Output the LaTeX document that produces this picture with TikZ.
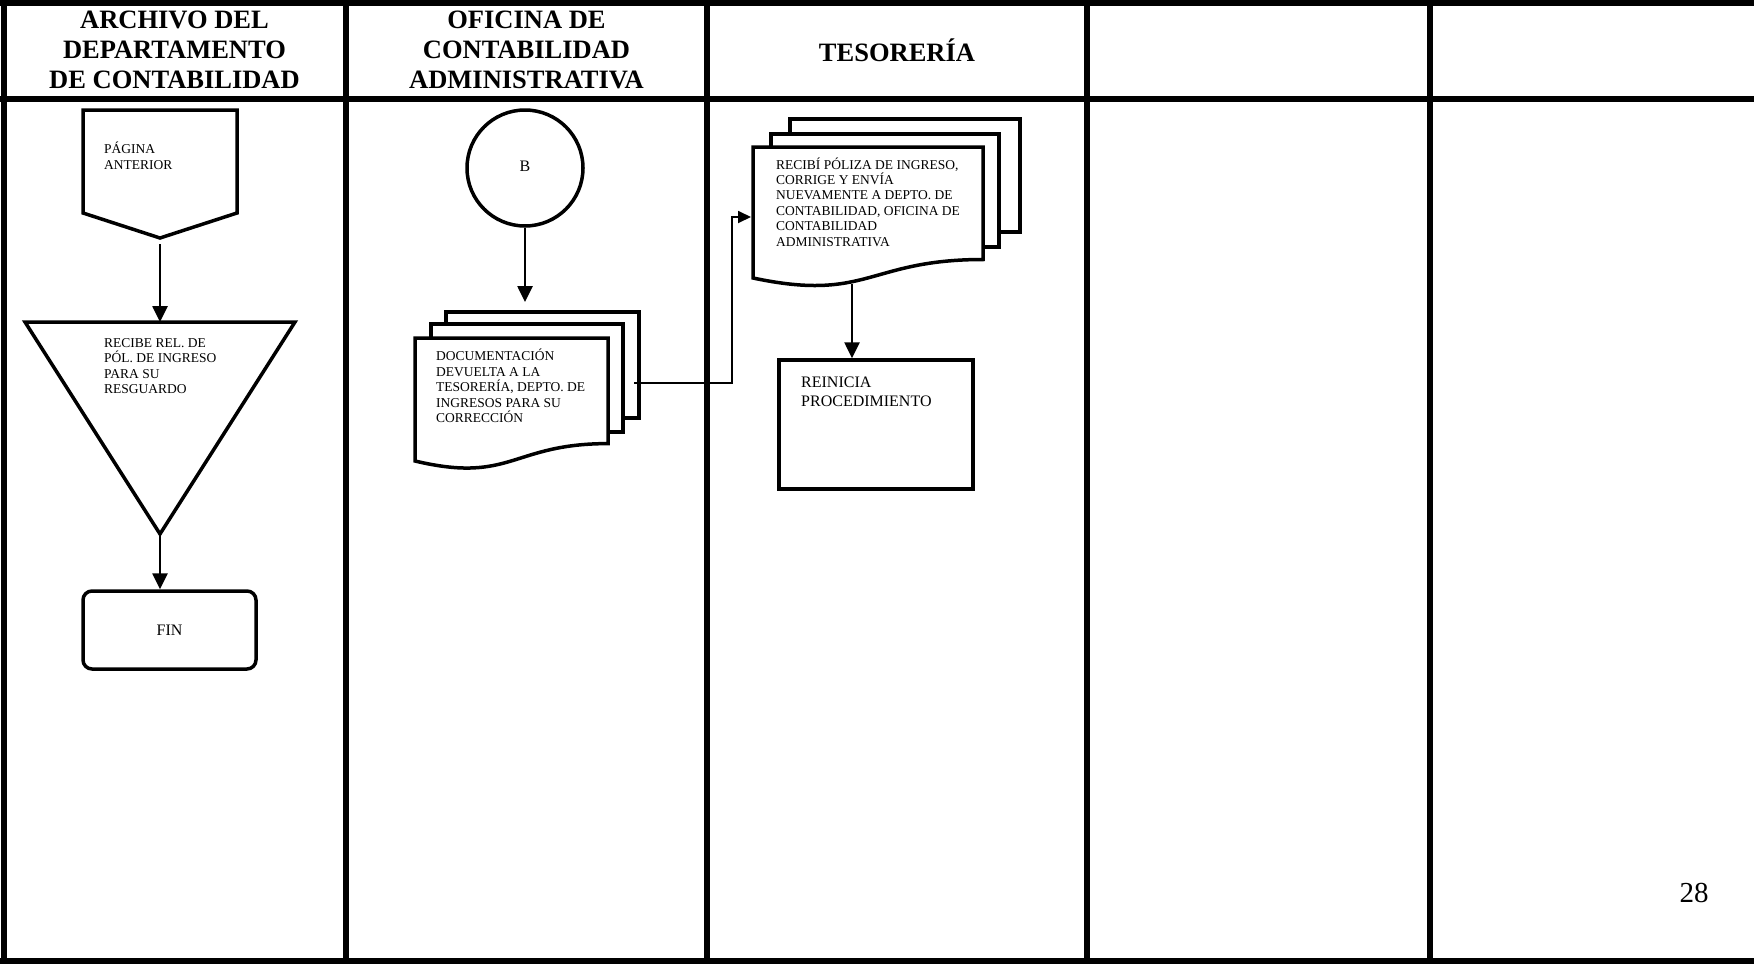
\documentclass[tikz,border=0pt]{standalone}
\usepackage{fontspec}
\setmainfont{Liberation Serif}
\usetikzlibrary{arrows.meta}

\tikzset{
  lane/.style={line width=6pt},
  box/.style={draw, line width=3.5pt, fill=white},
  flow/.style={line width=2.6pt, -{Triangle[length=16pt,width=15pt]}},
  link/.style={line width=1.8pt, -{Triangle[length=13pt,width=12pt]}},
  txt/.style={inner sep=0pt, align=left, font=\fontsize{13.5}{15.4}\selectfont},
  head/.style={align=center, font=\fontsize{26.5}{30}\selectfont\bfseries},
}

\begin{document}
\begin{tikzpicture}[x=1pt,y=-1pt]
        \useasboundingbox (0,0) rectangle (1754,964);
        % Lanes
        \draw[lane] (0,2.5) -- (1754,2.5);
        \draw[lane] (0,98.5) -- (1754,98.5);
        \draw[lane] (0,961) -- (1754,961);
        \foreach \x in {3.5,346,707,1087,1430}
          \draw[lane] (\x,0) -- (\x,964);
        % Headers
        \node[head] (h1) at (174.5,50) {ARCHIVO DEL\\DEPARTAMENTO\\DE CONTABILIDAD};
        \node[head] (h2) at (526.5,50) {OFICINA DE\\CONTABILIDAD\\ADMINISTRATIVA};
        \node[head] (h3) at (897,50) {TESORERÍA};
        % Archivo: pagina anterior
        \draw[box] (83,110) -- (237,110) -- (237,213) -- (160,238) -- (83,213) -- cycle;
        \coordinate (pag) at (160,238);
        \node[txt, anchor=base west] (pagtxt) at (104,169) {PÁGINA\\ANTERIOR};
        % Archivo: resguardo
        \draw[box] (25,322) -- (295,322) -- (160,534) -- cycle;
        \coordinate (tritop) at (160,322);
        \coordinate (tribot) at (160,534);
        \node[txt, anchor=base west] (tritxt) at (104,393.5) {RECIBE REL. DE\\PÓL. DE INGRESO\\PARA SU\\RESGUARDO};
        % Archivo: fin
        \node[box, rounded corners=9pt, minimum width=173pt, minimum height=78pt,
              font=\fontsize{16}{18}\selectfont] (fin) at (169.5,630) {FIN};
        \draw[flow, shorten <=6pt] (pag) -- (tritop);
        \draw[flow] (tribot) -- (tribot |- fin.north);
        % Oficina: conector B
        \node[box, circle, minimum size=116pt, font=\fontsize{16}{18}\selectfont] (b) at (525,168) {\raisebox{4pt}{B}};
        % Oficina: documentos
        \draw[box] (446,312) rectangle (639,418);
        \draw[box] (431,324) rectangle (623,432);
        \draw[box] (415,338) -- (608,338) -- (608,443.6)
              .. controls (511.5,443.6) and (511.5,483.9) .. (415,461) -- cycle;
        \coordinate (ofitop) at (525,312);
        \coordinate (ofiout) at (634,383);
        \node[txt, anchor=base west] (ofitxt) at (436,422.5)
              {DOCUMENTACIÓN\\DEVUELTA A LA\\TESORERÍA, DEPTO. DE\\INGRESOS PARA SU\\CORRECCIÓN};
        \draw[flow, shorten >=10pt] (b) -- (ofitop);
        % Tesoreria: documentos
        \draw[box] (790,119) rectangle (1020,232);
        \draw[box] (771,134) rectangle (999,247);
        \draw[box] (753,147) -- (983,147) -- (983,259.5)
              .. controls (868,259.5) and (868,302.4) .. (753,278) -- cycle;
        \coordinate (tesin) at (753,217);
        \coordinate (tesbot) at (852,284);
        \node[txt, anchor=base west] (testxt) at (776,246)
              {RECIBÍ PÓLIZA DE INGRESO,\\CORRIGE Y ENVÍA\\NUEVAMENTE A DEPTO. DE\\CONTABILIDAD, OFICINA DE\\CONTABILIDAD\\ADMINISTRATIVA};
        % Tesoreria: reinicia
        \node[box, minimum width=194pt, minimum height=129pt] (rei) at (876,424.5) {};
        \node[txt, font=\fontsize{16}{19}\selectfont, anchor=base west] (reitxt) at (801,406)
              {REINICIA\\PROCEDIMIENTO};
        \draw[flow] (tesbot) -- (tesbot |- rei.north);
        \draw[link, shorten >=2pt] (ofiout) -- ++(98,0) |- (tesin);
        % Page number
        \node[font=\fontsize{29}{32}\selectfont] (num) at (1694,893) {28};
\end{tikzpicture}
\end{document}
